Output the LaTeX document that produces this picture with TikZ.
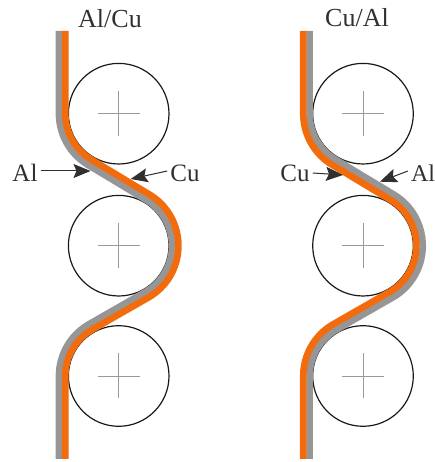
\documentclass[tikz,border=0pt]{standalone}
\usepackage{fontspec}
\setmainfont{Liberation Serif}
\usetikzlibrary{arrows.meta}
\definecolor{cuorange}{HTML}{F26C0D}
\definecolor{algray}{HTML}{969696}
\definecolor{inkdark}{HTML}{303030}
\tikzset{
	roller/.style={draw=black!90, circle, line width=1.2pt, minimum size=100.6pt, inner sep=0pt},
	crossline/.style={draw=black!40, line width=0.8pt},
	layer/.style={line width=6.7pt, line cap=butt, line join=round},
	title/.style={font=\fontsize{26}{26}\selectfont, text=inkdark, inner sep=0pt},
	tag/.style={font=\fontsize{25}{25}\selectfont, text=inkdark, inner sep=3pt},
	pointer/.style={-{Stealth[length=17pt,width=14pt,inset=3pt]}, draw=inkdark, fill=inkdark, line width=1pt}
}
\begin{document}
\begin{tikzpicture}[x=1pt, y=1pt]
	\useasboundingbox (0,0) rectangle (435,462);
	% rollers with their centre marks
	\foreach \cx/\set in {118.7/a, 363/b} {
		\foreach \cy/\n in {348.3/1, 216.3/2, 86/3} {
			\node[roller] (\set\n) at (\cx,\cy) {};
			\draw[crossline] ([xshift=-21pt]\set\n.center) -- ([xshift=21pt]\set\n.center);
			\draw[crossline] ([yshift=-22.5pt]\set\n.center) -- ([yshift=22.5pt]\set\n.center);
		}
	}
	% strips, one layer at a time
	\foreach \set/\col/\ra/\rb in {a/algray/59.7/53.4, a/cuorange/53.4/59.7, b/algray/53.4/59.7, b/cuorange/59.7/53.4} {
		\draw[layer, draw=\col] ([xshift=-\ra pt]\set1.center |- 0,431) -- ([xshift=-\ra pt]\set1.center)
			arc[start angle=180, end angle=239, radius=\ra]
			-- ([shift={(\set2.center)}]59:\rb) arc[start angle=59, end angle=-59, radius=\rb]
			-- ([shift={(\set3.center)}]121:\ra) arc[start angle=121, end angle=180, radius=\ra]
			-- ([xshift=-\ra pt]\set3.center |- 0,3);
	}
	% left pair
	\node[title] (titlea) at (110,443) {Al/Cu};
	\node[tag] (ala) at (25,289) {Al};
	\node[tag] (cua) at (185,289) {Cu};
	\coordinate (tipala) at (90.5,291);
	\coordinate (tipcua) at (130.7,283);
	\draw[pointer] ([yshift=2pt]ala.east) -- (tipala);
	\draw[pointer] ([yshift=2pt]cua.west) -- (tipcua);
	% right pair
	\node[title] (titleb) at (357,444) {Cu/Al};
	\node[tag] (cub) at (295,289) {Cu};
	\node[tag, font=\fontsize{24}{24}\selectfont] (alb) at (423,289) {Al};
	\coordinate (tipcub) at (343,287);
	\coordinate (tipalb) at (380,280.3);
	\draw[pointer] (cub.east) -- (tipcub);
	\draw[pointer] ([yshift=2pt]alb.west) -- (tipalb);
\end{tikzpicture}
\end{document}
